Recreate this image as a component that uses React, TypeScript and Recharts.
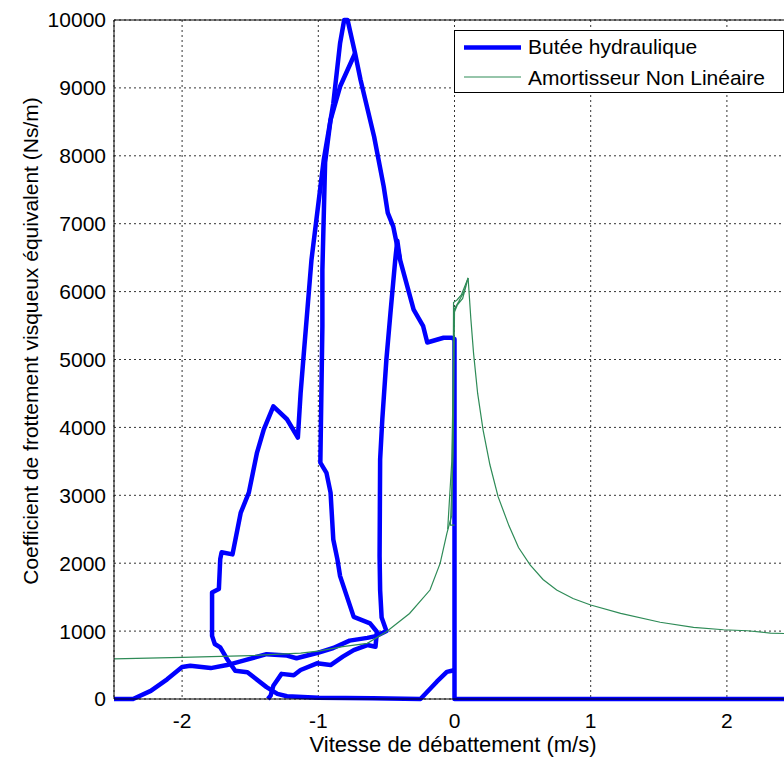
import React from 'react';
import {
  ComposedChart,
  Line,
  XAxis,
  YAxis,
  CartesianGrid,
  Legend,
  ReferenceLine,
} from 'recharts';

interface Pt {
  x: number;
  y: number;
}

const FONT = '"Liberation Sans", Arial, sans-serif';

const X_TICKS = [-2, -1, 0, 1, 2];
const Y_TICKS = [0, 1000, 2000, 3000, 4000, 5000, 6000, 7000, 8000, 9000, 10000];
const LEGEND_ORDER = ['Butée hydraulique', 'Amortisseur Non Linéaire'];

// Butée hydraulique, trajet 1 : montée par la droite puis chute en 0
const buteeAX = [-2.5, -2.36, -2.23, -2.11, -2.0, -1.94, -1.79, -1.67, -1.55, -1.38, -1.23, -1.16, -1.01, -0.89, -0.77, -0.64, -0.57, -0.5, -0.535, -0.546, -0.55, -0.546, -0.53, -0.5, -0.47, -0.435, -0.42, -0.4, -0.3, -0.23, -0.2, -0.08, -0.02, 0, 0, 2.5];
const buteeAY = [0, 0, 120, 290, 470, 490, 455, 500, 565, 660, 640, 600, 677, 751, 860, 900, 930, 1000, 1200, 1600, 2100, 3530, 4120, 5000, 5690, 6470, 6750, 6470, 5735, 5490, 5250, 5320, 5320, 5300, 0, 0];

// Butée hydraulique, trajet 2 : grande boucle de gauche et pic
const buteeBX = [0, -0.02, -0.056, -0.13, -0.25, -0.6, -1.0, -1.23, -1.3, -1.38, -1.52, -1.61, -1.67, -1.72, -1.76, -1.78, -1.78, -1.73, -1.72, -1.71, -1.63, -1.57, -1.51, -1.45, -1.4, -1.33, -1.23, -1.15, -1.13, -1.11, -1.08, -1.05, -0.96, -0.89, -0.84, -0.81, -0.785, -0.73, -0.69, -0.59, -0.52, -0.49, -0.45, -0.4];
const buteeBY = [430, 415, 400, 255, 0, 10, 20, 40, 75, 175, 395, 415, 590, 760, 810, 930, 1570, 1620, 2060, 2160, 2130, 2740, 3040, 3630, 3970, 4310, 4120, 3850, 4500, 5000, 5735, 6470, 7940, 8770, 9660, 10000, 10000, 9510, 9120, 8280, 7550, 7160, 6960, 6470];

// Butée hydraulique, trajet 3 : second pic et boucle basse
const buteeCX = [-0.73, -0.84, -0.91, -0.95, -0.97, -0.97, -0.985, -0.94, -0.91, -0.89, -0.86, -0.84, -0.74, -0.62, -0.57, -0.58, -0.64, -0.74, -0.82, -0.91, -1.01, -1.13, -1.18, -1.27, -1.33, -1.35, -1.37];
const buteeCY = [9510, 9020, 8530, 7900, 6320, 5490, 3480, 3330, 3040, 2350, 2060, 1810, 1210, 1115, 990, 770, 795, 720, 623, 500, 525, 427, 350, 370, 195, 50, 0];

// Amortisseur non linéaire
const amortX = [-2.5, -2.0, -1.5, -1.13, -1.0, -0.82, -0.64, -0.5, -0.33, -0.18, -0.105, -0.056, -0.03, -0.02, -0.01, -0.007, 0.02, 0.05, 0.1, 0.12, 0.14, 0.17, 0.21, 0.26, 0.32, 0.4, 0.47, 0.555, 0.65, 0.75, 0.87, 1.0, 1.22, 1.51, 1.755, 1.975, 2.15, 2.32, 2.5];
const amortY = [590, 612, 640, 675, 705, 770, 820, 990, 1260, 1605, 2000, 2440, 2635, 2700, 4500, 5840, 5880, 5950, 6200, 5600, 5090, 4500, 3960, 3450, 2980, 2550, 2230, 1975, 1760, 1605, 1480, 1385, 1260, 1130, 1055, 1020, 1005, 970, 960];

// petites boucles d'hystérésis autour de 0
const amortBoucleX = [-0.05, -0.02, 0.0, 0.03, 0.07, 0.1, 0.06, 0.02, 0.0, -0.01, -0.03, 0.0];
const amortBoucleY = [2500, 3500, 5750, 5850, 6000, 6200, 5900, 5800, 5700, 3600, 2560, 2560];

const zip = (xs: number[], ys: number[]): Pt[] => xs.map((x, i) => ({ x, y: ys[i] }));

const BLUE = '#0000ff';
const GREEN = '#2e8b57';

const LINE_WIDTHS: Record<string, number> = {
  'Butée hydraulique': 4.5,
  'Amortisseur Non Linéaire': 1.2,
};

const LegendBox = (props: any) => {
  const items = (props.payload || [])
    .filter((it: any) => LEGEND_ORDER.includes(it.value))
    .sort((a: any, b: any) => LEGEND_ORDER.indexOf(a.value) - LEGEND_ORDER.indexOf(b.value));
  return (
    <svg width={330} height={63} style={{ display: 'block' }}>
      <rect x={0.5} y={0.5} width={329} height={62} fill="#fff" stroke="#000" />
      {items.map((it: any, i: number) => (
        <g key={it.value}>
          <line
            x1={10}
            x2={67}
            y1={17.5 + i * 29.5}
            y2={17.5 + i * 29.5}
            stroke={it.color}
            strokeWidth={LINE_WIDTHS[it.value] ?? 1}
          />
          <text x={74} y={24 + i * 30.5} fontFamily={FONT} fontSize={21} fill="#000">
            {it.value}
          </text>
        </g>
      ))}
    </svg>
  );
};

const XTitle = () => (
  <text x={453} y={752} textAnchor="middle" fontFamily={FONT} fontSize={22} fill="#000">
    Vitesse de débattement (m/s)
  </text>
);

const YTitle = () => (
  <text
    x={38}
    y={341}
    transform="rotate(-90 38 341)"
    textAnchor="middle"
    fontFamily={FONT}
    fontSize={21}
    fill="#000"
  >
    Coefficient de frottement visqueux équivalent (Ns/m)
  </text>
);

const tickStyle = { fontFamily: FONT, fontSize: 21, fill: '#000' };

export default function App() {
  return (
    <div
      style={{
        position: 'absolute',
        left: 0,
        top: 0,
        width: 784,
        height: 760,
        overflow: 'hidden',
        background: '#fff',
      }}
    >
      <ComposedChart width={800} height={760} margin={{ top: 20, right: 5, bottom: 0, left: 0 }}>
        <CartesianGrid stroke="#333" strokeDasharray="2 3" />
        <XAxis
          type="number"
          dataKey="x"
          domain={[-2.5, 2.5]}
          ticks={X_TICKS}
          height={61}
          tick={tickStyle}
          tickLine={false}
          tickSize={6}
          tickMargin={8}
          axisLine={{ stroke: '#000' }}
          label={<XTitle />}
        />
        <YAxis
          type="number"
          dataKey="y"
          domain={[0, 10000]}
          ticks={Y_TICKS}
          width={114}
          tick={tickStyle}
          tickLine={false}
          tickSize={6}
          tickMargin={2}
          axisLine={{ stroke: '#000' }}
          label={<YTitle />}
        />
        <ReferenceLine y={10000} stroke="#000" strokeWidth={1} />
        <Legend
          layout="vertical"
          align="center"
          verticalAlign="middle"
          content={<LegendBox />}
          wrapperStyle={{ left: 454, top: 30, width: 330, height: 63 }}
        />
        <Line
          name="Butée hydraulique"
          data={zip(buteeAX, buteeAY)}
          dataKey="y"
          type="linear"
          stroke={BLUE}
          strokeWidth={4.5}
          strokeLinejoin="round"
          dot={false}
          isAnimationActive={false}
        />
        <Line
          name="buteeB"
          data={zip(buteeBX, buteeBY)}
          dataKey="y"
          type="linear"
          stroke={BLUE}
          strokeWidth={4.5}
          strokeLinejoin="round"
          dot={false}
          legendType="none"
          isAnimationActive={false}
        />
        <Line
          name="buteeC"
          data={zip(buteeCX, buteeCY)}
          dataKey="y"
          type="linear"
          stroke={BLUE}
          strokeWidth={4.5}
          strokeLinejoin="round"
          dot={false}
          legendType="none"
          isAnimationActive={false}
        />
        <Line
          name="Amortisseur Non Linéaire"
          data={zip(amortX, amortY)}
          dataKey="y"
          type="linear"
          stroke={GREEN}
          strokeWidth={1.2}
          dot={false}
          isAnimationActive={false}
        />
        <Line
          name="amortBoucle"
          data={zip(amortBoucleX, amortBoucleY)}
          dataKey="y"
          type="linear"
          stroke={GREEN}
          strokeWidth={1.2}
          dot={false}
          legendType="none"
          isAnimationActive={false}
        />
      </ComposedChart>
    </div>
  );
}
